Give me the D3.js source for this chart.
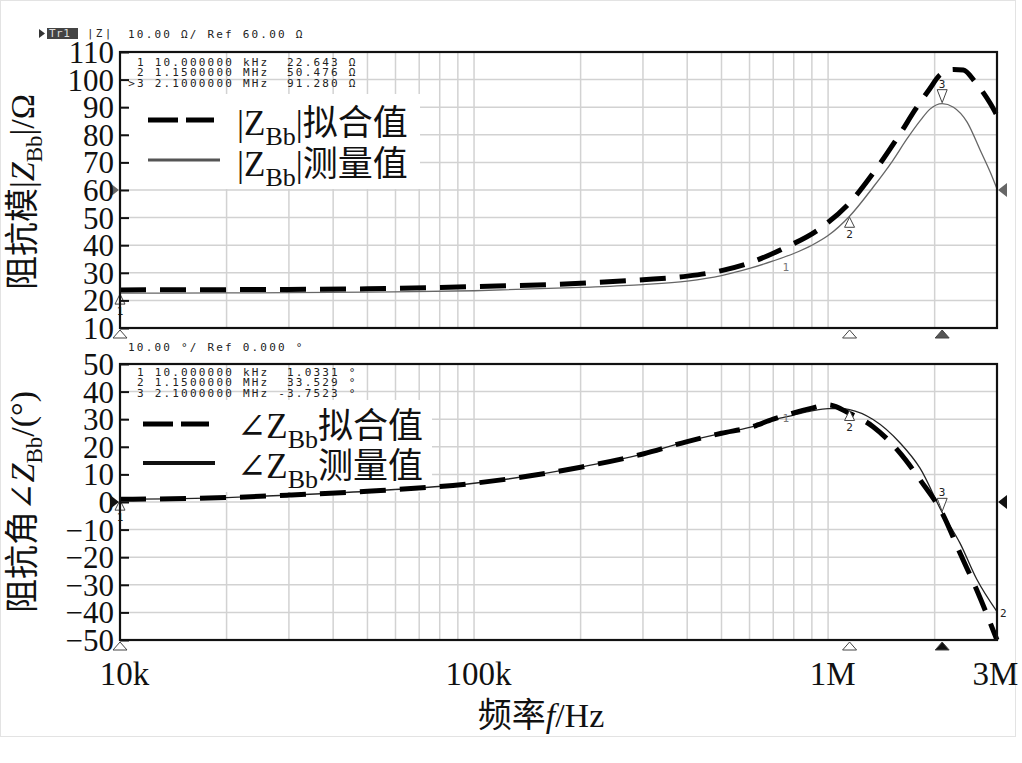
<!DOCTYPE html>
<html>
<head>
<meta charset="utf-8">
<script src="https://cdn.jsdelivr.net/npm/d3@7/dist/d3.min.js"></script>
<style>
body{margin:0;background:#fff}
.mono{font-family:"DejaVu Sans Mono",monospace;font-size:11px;letter-spacing:2.2px;fill:#222;white-space:pre}
.serif{font-family:"Liberation Serif","DejaVu Serif","Noto Sans CJK SC",serif;fill:#111}
</style>
</head>
<body>
<svg width="1022" height="763"></svg>
<script>
// |Z| (ohm)
var magMeasFreq = [1e4, 2e4, 5e4, 1e5, 2e5, 3e5, 4e5, 5e5, 6e5, 7e5, 8e5, 9e5, 1e6, 1.15e6, 1.34e6, 1.52e6, 1.67e6, 1.83e6, 1.94e6, 2.1e6, 2.26e6, 2.47e6, 2.69e6, 2.87e6, 3e6]
var magMeas     = [22.6, 22.7, 23.0, 23.5, 24.7, 25.7, 27.0, 29.0, 31.6, 34.3, 37.0, 40.0, 43.5, 50.5, 61.0, 70.5, 78.5, 85.5, 89.3, 91.3, 90.0, 84.6, 74.4, 66.5, 60.4]
var magFitFreq  = [1e4, 2e4, 5e4, 1e5, 2e5, 3e5, 4e5, 5e5, 6e5, 7.5e5, 9.5e5, 1.17e6, 1.36e6, 1.6e6, 1.76e6, 1.94e6, 2.07e6, 2.26e6, 2.41e6, 2.6e6, 2.87e6, 3e6]
var magFit      = [23.8, 23.9, 24.2, 25.0, 26.2, 27.5, 28.8, 30.8, 33.6, 38.9, 46.1, 56.4, 67.2, 80.5, 89.0, 96.8, 101.7, 103.7, 103.5, 99.2, 91.4, 87.0]

// phase (degree)
var phMeasFreq = [1e4, 2e4, 3e4, 5e4, 1e5, 2e5, 3e5, 4e5, 5e5, 6e5, 7e5, 8e5, 9e5, 1e6, 1.1e6, 1.15e6, 1.34e6, 1.6e6, 1.82e6, 2.1e6, 2.36e6, 2.63e6, 3e6]
var phMeas     = [1.0, 1.6, 2.5, 3.9, 6.8, 12.6, 17.4, 22.0, 24.9, 27.0, 29.8, 31.5, 33.0, 33.8, 33.8, 33.5, 29.9, 21.3, 12.2, -3.75, -15.0, -28.0, -39.7]
var phFitFreq  = [1e4, 2e4, 3e4, 5e4, 1e5, 2e5, 3e5, 4e5, 5e5, 6e5, 7e5, 8e5, 9e5, 1e6, 1.15e6, 1.34e6, 1.6e6, 1.82e6, 2.1e6, 2.36e6, 2.63e6, 3e6]
var phFit      = [1.0, 1.6, 2.5, 3.9, 6.8, 12.6, 17.4, 21.9, 24.9, 27.0, 30.0, 32.3, 34.0, 35.2, 32.1, 27.3, 17.6, 8.0, -4.0, -18.6, -31.9, -50.0]

// marker readouts
var markerFreq     = [1e4, 1.15e6, 2.1e6]
var markerFreqText = ["10.000000 kHz", "1.1500000 MHz", "2.1000000 MHz"]
var markerMag      = [22.643, 50.476, 91.280]
var markerMagText  = ["22.643", "50.476", "91.280"]
var markerPh       = [1.0331, 33.529, -3.7523]
var markerPhText   = ["1.0331", "33.529", "-3.7523"]

var magTicks = [10, 20, 30, 40, 50, 60, 70, 80, 90, 100, 110]
var phTicks  = [-50, -40, -30, -20, -10, 0, 10, 20, 30, 40, 50]
var xTickVals   = [1e4, 1e5, 1e6, 3e6]
var xTickLabels = ["10k", "100k", "1M", "3M"]

var svg = d3.select("svg")

svg.append("rect")
    .attr("x",0.5).attr("y",0.5).attr("width",1015).attr("height",736)
    .attr("fill","none").attr("stroke","#e3e3e3")

var x = d3.scaleLog().domain([1e4,3e6]).range([120,997])
var yMag = d3.scaleLinear().domain([10,110]).range([328,52])
var yPh  = d3.scaleLinear().domain([-50,50]).range([640,364])

// text with a subscript / italic parts
var richText = function(sel, parts, subSize, subShift)
    {
        var shift = 0
        parts.forEach(function(p)
            {
                var t = sel.append("tspan").text(p.t)
                var want = p.sub ? subShift : 0
                if (want != shift) t.attr("dy", want - shift)
                shift = want
                if (p.sub) t.attr("font-size", subSize)
                if (p.it) t.attr("font-style","italic")
            })
        return sel
    }

var drawPanel = function(p)
    {
        var g = svg.append("g")
        var top = p.y.range()[1], bottom = p.y.range()[0]

        // grid
        g.selectAll(".vg").data(x.ticks()).enter().append("line")
            .attr("x1",function(d){return x(d)}).attr("x2",function(d){return x(d)})
            .attr("y1",top).attr("y2",bottom)
            .attr("stroke","#d2d2d2").attr("stroke-width",1.5)
        g.selectAll(".hg").data(p.ticks).enter().append("line")
            .attr("x1",120).attr("x2",997)
            .attr("y1",function(d){return p.y(d)}).attr("y2",function(d){return p.y(d)})
            .attr("stroke","#d2d2d2").attr("stroke-width",1.5)

        // legend box covers the grid
        g.append("rect")
            .attr("x",p.legend.box[0]).attr("y",p.legend.box[1])
            .attr("width",p.legend.box[2]).attr("height",p.legend.box[3])
            .attr("fill","#fff")

        var lineGenerator = d3.line()
            .x(function(d){return x(d[0])})
            .y(function(d){return p.y(d[1])})
            .curve(d3.curveMonotoneX)

        g.append("path")
            .attr("d",lineGenerator(d3.zip(p.measFreq,p.meas)))
            .attr("fill","none").attr("stroke",p.measColor).attr("stroke-width",1.3)
        g.append("path")
            .attr("d",lineGenerator(d3.zip(p.fitFreq,p.fit)))
            .attr("fill","none").attr("stroke","#000").attr("stroke-width",5)
            .attr("stroke-dasharray","26,14")

        // markers on the measured trace
        p.markVal.forEach(function(v,i)
            {
                var mx = x(markerFreq[i]), my = p.y(v)
                if (i < 2)
                {
                    g.append("path").attr("d","M"+mx+","+(my+1)+"l-5,10h10z")
                        .attr("fill","#fff").attr("stroke","#444").attr("stroke-width",1)
                    g.append("text").attr("class","mono").attr("x",mx).attr("y",my+22)
                        .attr("text-anchor","middle").style("letter-spacing","0px").text(i+1)
                }
                else
                {
                    g.append("path").attr("d","M"+mx+","+(my-1)+"l-5,-13h10z")
                        .attr("fill","#fff").attr("stroke","#444").attr("stroke-width",1)
                    g.append("text").attr("class","mono").attr("x",mx).attr("y",my-16)
                        .attr("text-anchor","middle").style("letter-spacing","0px").text(i+1)
                }
                // markers under the panel
                g.append("path").attr("d","M"+mx+","+(bottom+2)+"l-7,8h14z")
                    .attr("fill",i == 2 ? p.activeFill : "#fff").attr("stroke","#444").attr("stroke-width",1)
            })

        g.append("text").attr("class","mono").attr("x",x(7.6e5)).attr("y",p.y(p.smallOne)+6)
            .attr("text-anchor","middle").style("fill","#777").style("letter-spacing","0px").text("1")

        // reference level arrows
        var ry = p.y(p.ref)
        g.append("path").attr("d","M110,"+(ry-7)+"l9,7l-9,7z").attr("fill",p.refFill)
        g.append("path").attr("d","M1007,"+(ry-7)+"l-9,7l9,7z").attr("fill",p.refFill)

        // frame
        g.append("rect").attr("x",120).attr("y",top).attr("width",877).attr("height",bottom-top)
            .attr("fill","none").attr("stroke","#111").attr("stroke-width",2.2)

        // y axis
        var ax = g.append("g").attr("transform","translate(120,0)")
            .call(d3.axisLeft(p.y).tickValues(p.ticks).tickSize(-9).tickPadding(6).tickFormat(d3.format("d")))
        ax.select(".domain").remove()
        ax.selectAll("line").attr("stroke","#111").attr("stroke-width",2)
        ax.selectAll("text").attr("class","serif").attr("font-size",31).attr("dy","0.34em")

        // header line and readout
        g.append("text").attr("class","mono").attr("x",128).attr("y",p.headerY).text(p.header)
        p.markVal.forEach(function(v,i)
            {
                var line = (i == 2 && p.active ? ">" : " ") + (i+1) + " " + markerFreqText[i]
                        + p.markText[i].padStart(8) + " " + p.unit
                g.append("text").attr("class","mono").attr("x",128.2).attr("y",p.readY + i*10.3).text(line)
            })

        // legend
        var L = p.legend
        g.append("line").attr("x1",L.x0).attr("x2",L.x0+66).attr("y1",L.y1).attr("y2",L.y1)
            .attr("stroke","#000").attr("stroke-width",5).attr("stroke-dasharray","30,8")
        g.append("line").attr("x1",L.x0).attr("x2",L.x0+72).attr("y1",L.y2).attr("y2",L.y2)
            .attr("stroke",L.solidColor).attr("stroke-width",L.solidWidth)
        richText(g.append("text").attr("class","serif").attr("x",237).attr("y",L.t1).attr("font-size",35),
            L.parts1, 26, 10)
        richText(g.append("text").attr("class","serif").attr("x",237).attr("y",L.t2).attr("font-size",35),
            L.parts2, 26, 10)

        // y title
        richText(g.append("text").attr("class","serif").attr("font-size",34).attr("text-anchor","middle")
            .attr("transform","translate(34,"+p.titleY+") rotate(-90)"), p.title, 23, 8)
    }

drawPanel({
    y: yMag, ticks: magTicks,
    measFreq: magMeasFreq, meas: magMeas, fitFreq: magFitFreq, fit: magFit,
    measColor: "#666", activeFill: "#555", refFill: "#666", ref: 60, smallOne: 33,
    markVal: markerMag, markText: markerMagText, unit: "Ω", active: true,
    header: "10.00 Ω/ Ref 60.00 Ω", headerY: 38, readY: 66,
    title: [{t:"阻抗模|"},{t:"Z",it:1},{t:"Bb",sub:1},{t:"|/Ω"}], titleY: 192,
    legend: {box:[128,94,292,95], x0:148, y1:120, y2:160, t1:135, t2:176,
        solidColor:"#555", solidWidth:3,
        parts1:[{t:"|Z"},{t:"Bb",sub:1},{t:"|拟合值"}],
        parts2:[{t:"|Z"},{t:"Bb",sub:1},{t:"|测量值"}]}
})

drawPanel({
    y: yPh, ticks: phTicks,
    measFreq: phMeasFreq, meas: phMeas, fitFreq: phFitFreq, fit: phFit,
    measColor: "#222", activeFill: "#111", refFill: "#111", ref: 0, smallOne: 31,
    markVal: markerPh, markText: markerPhText, unit: "°", active: false,
    header: "10.00 °/ Ref 0.000 °", headerY: 351, readY: 376,
    title: [{t:"阻抗角∠"},{t:"Z",it:1},{t:"Bb",sub:1},{t:"/(°)"}], titleY: 502,
    legend: {box:[128,400,304,92], x0:143, y1:424, y2:463, t1:438, t2:478,
        solidColor:"#111", solidWidth:4,
        parts1:[{t:"∠Z"},{t:"Bb",sub:1},{t:"拟合值"}],
        parts2:[{t:"∠Z"},{t:"Bb",sub:1},{t:"测量值"}]}
})

// trace end label of the phase panel
svg.append("text").attr("class","mono").attr("x",x(3e6)+3).attr("y",yPh(-40)+5)
    .style("letter-spacing","0px").text("2")

// top header
svg.append("path").attr("d","M39,29l6,4.5l-6,4.5z").attr("fill","#333")
svg.append("rect").attr("x",47).attr("y",28).attr("width",31).attr("height",11).attr("fill","#444")
svg.append("text").attr("class","mono").attr("x",49).attr("y",37).style("fill","#ddd")
    .style("letter-spacing","0.5px").text("Tr1")
svg.append("text").attr("class","mono").attr("x",87).attr("y",37).text("|Z|")

// x axis
var xa = svg.append("g").attr("transform","translate(0,640)")
    .call(d3.axisBottom(x).tickValues(xTickVals).tickSize(0).tickPadding(22)
        .tickFormat(function(d,i){return xTickLabels[i]}))
xa.select(".domain").remove()
xa.selectAll("text").attr("class","serif").attr("font-size",33)
    .attr("dx",function(d,i){return i == xTickVals.length-1 ? -2 : 4})

richText(svg.append("text").attr("class","serif").attr("font-size",34)
    .attr("x",541).attr("y",727).attr("text-anchor","middle"),
    [{t:"频率"},{t:"f",it:1},{t:"/Hz"}], 34, 0)
</script>
</body>
</html>
